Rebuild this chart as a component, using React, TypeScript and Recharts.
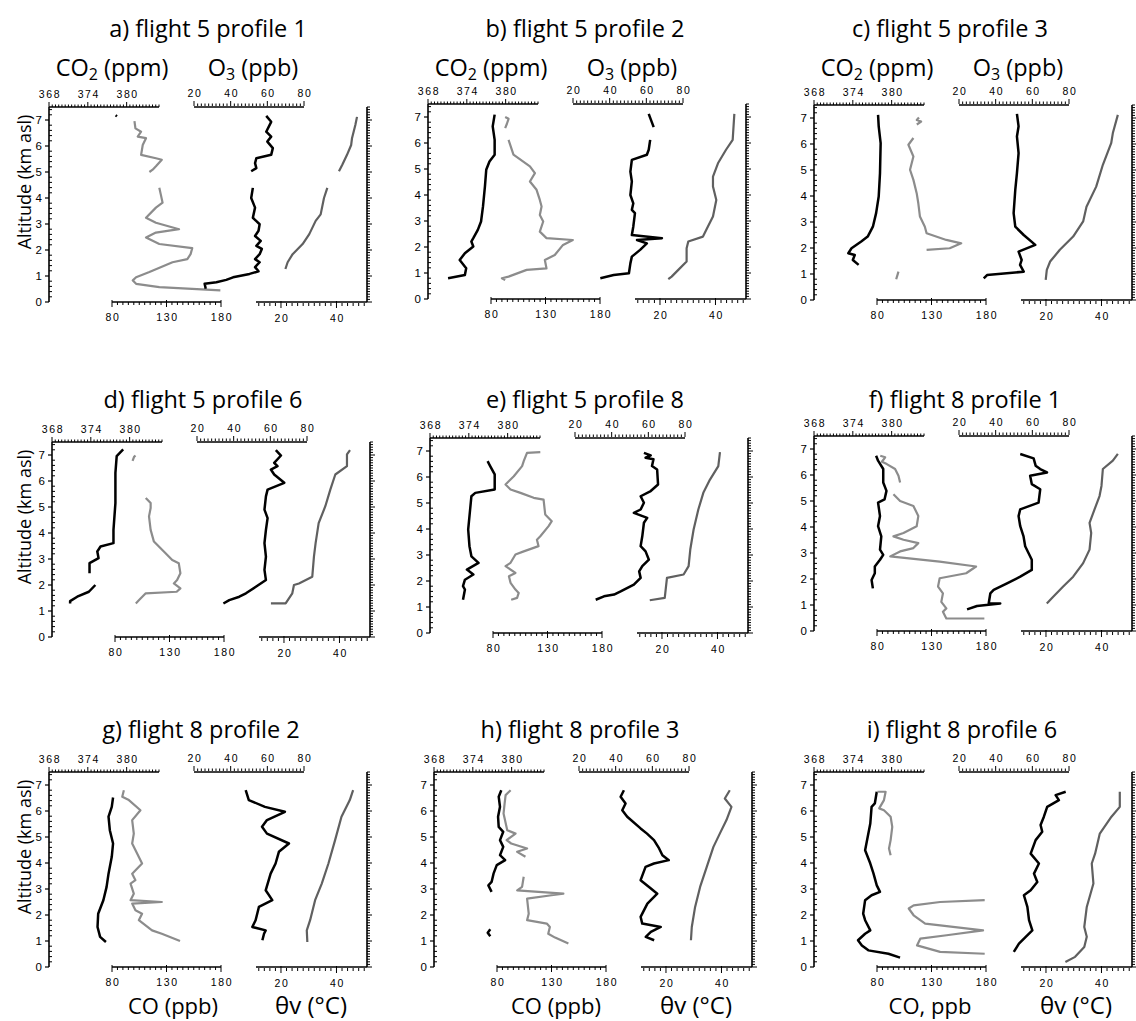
import { ScatterChart, Scatter, XAxis, YAxis, ReferenceLine } from "recharts";

type P = [number, number] | null;

// tick labels
const co2Labels = [368, 374, 380];
const o3Labels = [20, 40, 60, 80];
const coLabels = [80, 130, 180];
const thLabels = [20, 40];
const altLabels = [0, 1, 2, 3, 4, 5, 6, 7];

// a) flight 5 profile 1  — [value, altitude km], null = gap
const aCO2: P[] = [[378.3, 7.18], [378.5, 7.14]];
const aCO: P[] = [[100.6, 6.96], [101.5, 6.68], [106.7, 6.55], [103.6, 6.36], [111.2, 6.3], [108.2, 6.04], [106.7, 5.66], [120.3, 5.53], [125.7, 5.47], [120.3, 5.22], [117.3, 5.09], [114.3, 5.0], null, [123.4, 4.39], [124.8, 4.13], [126.4, 3.82], [120.3, 3.63], [111.2, 3.24], [120.3, 3.05], [141.5, 2.8], [120.3, 2.67], [111.2, 2.48], [123.4, 2.23], [153.6, 2.07], [152.1, 1.84], [149.1, 1.65], [135.5, 1.53], [114.3, 1.15], [102.1, 0.95], [99.1, 0.83], [102.1, 0.7], [123.4, 0.57], [179.4, 0.45]];
const aO3: P[] = [[59.4, 7.16], [62.1, 6.93], [59.4, 6.55], [62.1, 6.36], [60.0, 6.17], [63.0, 5.92], [62.1, 5.66], [54.0, 5.53], [53.3, 5.34], [54.0, 5.15], [51.2, 5.03], null, [52.1, 4.39], [51.2, 4.0], [53.3, 3.63], [52.1, 3.24], [55.8, 2.99], [55.2, 2.74], [53.3, 2.54], [56.4, 2.35], [54.0, 2.16], [57.0, 2.04], [55.8, 1.84], [53.3, 1.65], [55.8, 1.53], [53.3, 1.34], [55.2, 1.18], [50.3, 1.08], [41.3, 0.95], [37.6, 0.85], [32.2, 0.76], [25.8, 0.7], [26.4, 0.51]];
const aTH: P[] = [[47.4, 7.12], [46.8, 6.81], [45.6, 6.3], [45.3, 6.04], [43.8, 5.66], [42.1, 5.28], [40.9, 5.03], null, [36.7, 4.39], [35.5, 4.0], [34.3, 3.37], [32.5, 3.12], [30.2, 2.61], [27.8, 2.23], [24.2, 1.84], [22.4, 1.53], [21.6, 1.27]];

// b) flight 5 profile 2
const bCO2: P[] = [[378.3, 7.09], [378.0, 6.64], [378.3, 6.12], [378.3, 5.55], [377.5, 5.29], [377.0, 4.97], [376.8, 4.33], [376.5, 3.56], [376.2, 2.98], [375.7, 2.66], [375.0, 2.34], [374.7, 2.21], [375.0, 2.02], [373.7, 1.76], [372.9, 1.5], [373.9, 1.18], [373.7, 0.92], [371.1, 0.8]];
const bCO: P[] = [[93.0, 7.0], [96.1, 6.93], [94.6, 6.74], [93.0, 6.57], null, [96.1, 6.12], [100.6, 5.55], [115.7, 5.1], [120.3, 4.84], [115.7, 4.52], [121.8, 4.2], [124.8, 3.81], [126.4, 3.56], [124.8, 3.23], [127.9, 2.98], [124.8, 2.59], [130.9, 2.34], [155.1, 2.27], [146.1, 2.08], [138.5, 1.69], [129.4, 1.5], [130.9, 1.18], [112.7, 1.12], [96.1, 0.86], [90.0, 0.8], [93.0, 0.73]];
const bO3: P[] = [[61.3, 7.12], [64.0, 6.61], null, [62.1, 6.12], [61.3, 5.74], [60.3, 5.55], [52.1, 5.35], [51.3, 4.9], [52.1, 4.52], [51.3, 4.0], [52.9, 3.68], [52.1, 3.43], [53.8, 3.3], [52.9, 2.79], [52.1, 2.46], [68.5, 2.34], [54.9, 2.27], [60.3, 2.14], [56.6, 1.89], [52.1, 1.63], [51.3, 1.37], [50.5, 0.99], [42.2, 0.92], [34.9, 0.8]];
const bTH: P[] = [[46.8, 7.12], [46.2, 6.12], [43.8, 5.74], [40.9, 5.22], [39.1, 4.71], [39.1, 4.33], [40.3, 3.81], [39.1, 3.17], [36.7, 2.66], [35.5, 2.4], [30.2, 2.21], [29.6, 1.95], [29.6, 1.44], [26.6, 1.12], [24.2, 0.86], [23.0, 0.76]];

// c) flight 5 profile 3
const cCO2: P[] = [[377.9, 7.12], [378.0, 6.68], [378.3, 6.03], [378.2, 4.88], [378.0, 3.98], [377.6, 3.34], [377.1, 2.82], [376.3, 2.44], [375.3, 2.25], [373.8, 1.99], [373.3, 1.8], [374.3, 1.73], [374.0, 1.54], [374.9, 1.35]];
const cCO: P[] = [[118.5, 7.02], [116.5, 6.92], [120.5, 6.86], [116.5, 6.75], null, [113.4, 6.23], [108.8, 5.97], [113.4, 5.52], [110.3, 5.01], [113.4, 4.62], [116.4, 4.11], [117.9, 3.72], [119.4, 3.21], [123.9, 2.82], [125.5, 2.57], [143.6, 2.31], [157.3, 2.18], [146.7, 1.99], [125.5, 1.93], null, [99.7, 1.09], [97.6, 0.8]];
const cO3: P[] = [[51.6, 7.16], [52.5, 6.68], [51.6, 6.29], [52.5, 5.65], [51.6, 4.88], [50.7, 4.24], [49.8, 3.34], [50.7, 2.82], [55.3, 2.5], [61.6, 2.12], [52.5, 1.86], [54.2, 1.54], [53.3, 1.35], [55.3, 1.09], [35.3, 0.96], [33.5, 0.83]];
const cTH: P[] = [[45.9, 7.12], [44.1, 6.42], [43.5, 6.03], [40.5, 5.2], [38.1, 4.36], [34.6, 3.59], [33.4, 3.02], [29.8, 2.44], [25.0, 1.93], [21.5, 1.48], [20.3, 1.16], [19.9, 0.77]];

// d) flight 5 profile 6
const dCO2: P[] = [[379.0, 7.22], [378.0, 6.96], [377.8, 6.31], [377.8, 5.15], [377.5, 4.12], [377.5, 3.61], [375.5, 3.48], [375.0, 3.29], [375.2, 3.03], [373.8, 2.84], [373.8, 2.45], null, [374.7, 2.0], [373.7, 1.74], [371.9, 1.55], [370.8, 1.38], [370.8, 1.29]];
const dCO: P[] = [[98.8, 6.98], [97.5, 6.93], [96.1, 6.77], null, [108.2, 5.35], [112.7, 5.15], [112.7, 4.96], [111.2, 4.64], [112.7, 4.12], [115.7, 3.67], [126.4, 3.22], [132.5, 2.96], [138.5, 2.84], [140.0, 2.45], [137.0, 2.19], [134.0, 2.06], [140.0, 1.87], [136.6, 1.74], [108.2, 1.68], [102.1, 1.42], [99.1, 1.29]];
const dO3: P[] = [[63.0, 7.19], [65.8, 6.98], [62.1, 6.7], [63.9, 6.57], [60.3, 6.44], [62.1, 6.25], [67.6, 5.93], [58.5, 5.67], [57.6, 5.41], [56.8, 4.9], [58.5, 4.57], [57.6, 4.12], [56.8, 3.61], [57.6, 3.09], [56.8, 2.58], [57.6, 2.19], [52.1, 1.93], [46.7, 1.68], [43.1, 1.55], [37.6, 1.42], [34.4, 1.29]];
const dTH: P[] = [[43.8, 7.19], [42.7, 7.02], [42.7, 6.57], [38.5, 6.25], [36.7, 5.67], [34.9, 5.03], [32.5, 4.38], [31.4, 3.61], [30.8, 3.09], [30.2, 2.32], [25.4, 2.06], [23.6, 2.0], [23.0, 1.68], [20.6, 1.29], [15.3, 1.29]];

// e) flight 5 profile 8
const eCO2: P[] = [[376.9, 6.61], [377.3, 6.42], [378.0, 6.1], [378.0, 5.52], [375.0, 5.39], [374.4, 5.26], [374.2, 4.75], [373.9, 3.98], [374.1, 3.34], [374.4, 2.95], [375.5, 2.7], [373.7, 2.44], [374.7, 2.25], [373.4, 2.05], [373.1, 1.8], [373.4, 1.67], [373.1, 1.28]];
const eCO: P[] = [[123.4, 6.96], [111.2, 6.93], [108.2, 6.61], [106.7, 6.42], [99.1, 6.03], [91.5, 5.71], [96.1, 5.52], [105.2, 5.39], [117.3, 5.2], [126.4, 5.13], [127.9, 4.56], [133.9, 4.3], [131.0, 4.11], [123.4, 3.72], [120.3, 3.59], [121.8, 3.34], [108.2, 3.14], [100.6, 3.02], [96.1, 2.7], [91.5, 2.57], [100.6, 2.31], [94.6, 2.18], [96.1, 1.93], [100.6, 1.67], [103.6, 1.54], [102.1, 1.35], [96.7, 1.28]];
const eO3: P[] = [[57.6, 6.93], [61.3, 6.83], [58.5, 6.74], [62.8, 6.68], [62.0, 6.42], [64.8, 6.29], [65.3, 5.71], [61.3, 5.46], [55.8, 5.26], [57.6, 5.01], [55.8, 4.75], [52.1, 4.62], [59.4, 4.43], [57.6, 4.24], [56.7, 3.72], [55.8, 3.34], [58.5, 3.14], [60.3, 2.82], [56.7, 2.57], [55.0, 2.37], [55.8, 2.12], [52.1, 1.86], [44.9, 1.6], [41.3, 1.48], [35.8, 1.41], [31.3, 1.28]];
const eTH: P[] = [[40.9, 6.96], [40.3, 6.42], [37.3, 5.9], [34.9, 5.39], [33.1, 4.75], [31.4, 3.98], [30.2, 3.21], [29.6, 2.57], [27.8, 2.25], [21.8, 2.12], [21.2, 1.54], [21.0, 1.35], [15.6, 1.26]];

// f) flight 8 profile 1
const fCO2: P[] = [[377.6, 6.74], [377.9, 6.55], [378.7, 6.23], [378.7, 5.71], [379.2, 5.39], [378.9, 5.06], [377.9, 4.94], [378.2, 4.42], [377.9, 4.03], [378.4, 3.64], [378.2, 3.13], [378.7, 2.93], [378.2, 2.74], [377.4, 2.48], [377.4, 2.22], [376.9, 1.96], [377.1, 1.64]];
const fCO: P[] = [[83.0, 6.74], [87.5, 6.68], [84.5, 6.51], [89.0, 6.42], [96.6, 6.23], [99.7, 5.97], [101.2, 5.71], null, [95.1, 5.26], [101.2, 5.0], [113.4, 4.81], [117.9, 4.42], [116.4, 4.03], [104.3, 3.77], [95.1, 3.64], [104.3, 3.51], [117.9, 3.38], [113.4, 3.19], [101.2, 3.06], [92.1, 2.87], [137.5, 2.67], [170.9, 2.48], [161.8, 2.22], [137.5, 2.03], [136.0, 1.71], [140.5, 1.45], [139.0, 1.12], [143.6, 0.87], [140.5, 0.74], [143.6, 0.48], [178.5, 0.48]];
const fO3: P[] = [[53.4, 6.81], [60.7, 6.64], [61.8, 6.36], [64.3, 6.23], [68.0, 6.1], [58.8, 5.97], [59.7, 5.65], [64.3, 5.45], [63.4, 4.94], [53.4, 4.68], [52.5, 4.42], [53.4, 4.03], [55.2, 3.64], [56.1, 3.26], [57.9, 3.0], [59.7, 2.74], [59.7, 2.35], [53.4, 2.09], [46.2, 1.83], [38.9, 1.58], [37.1, 1.45], [36.2, 1.06], [42.5, 1.06], [29.8, 0.96], [24.4, 0.83]];
const fTH: P[] = [[45.9, 6.81], [44.1, 6.55], [40.5, 6.23], [40.0, 5.58], [39.3, 5.19], [37.5, 4.68], [35.7, 4.16], [36.3, 3.77], [35.7, 3.13], [33.4, 2.61], [29.8, 2.09], [26.2, 1.71], [22.6, 1.32], [20.3, 1.06]];

// g) flight 8 profile 2
const gCO2: P[] = [[377.9, 6.52], [377.7, 6.16], [377.2, 5.78], [377.4, 5.26], [377.9, 4.75], [377.7, 4.24], [377.2, 3.59], [376.9, 3.08], [376.4, 2.57], [375.6, 2.05], [375.5, 1.54], [375.9, 1.16], [376.8, 0.96]];
const gCO: P[] = [[90.9, 6.8], [89.4, 6.55], [95.5, 6.42], [106.1, 6.03], [98.5, 5.65], [100.0, 5.13], [98.5, 4.75], [107.6, 3.98], [98.5, 3.59], [101.5, 3.34], [97.0, 3.21], [100.0, 2.82], [97.0, 2.57], [125.7, 2.5], [98.5, 2.44], [101.5, 2.18], [107.6, 2.05], [104.6, 1.8], [116.7, 1.41], [125.7, 1.28], [142.4, 1.0]];
const gO3: P[] = [[48.2, 6.8], [49.9, 6.42], [58.7, 6.16], [69.6, 5.97], [59.8, 5.65], [57.1, 5.39], [59.8, 5.13], [71.8, 4.75], [66.3, 4.43], [64.5, 3.98], [61.8, 3.59], [59.1, 2.95], [62.7, 2.57], [55.4, 2.31], [53.6, 1.8], [51.8, 1.54], [59.1, 1.41], [58.2, 1.28], [57.3, 1.03]];
const gTH: P[] = [[46.0, 6.8], [44.8, 6.42], [41.8, 5.78], [39.5, 4.88], [37.1, 3.98], [34.7, 3.21], [32.3, 2.57], [30.5, 1.8], [29.3, 1.41], [29.5, 0.96]];

// h) flight 8 profile 3
const hCO2: P[] = [[378.4, 6.8], [378.0, 6.55], [378.2, 6.16], [377.9, 5.78], [378.0, 5.39], [378.7, 5.2], [378.2, 4.88], [378.7, 4.62], [378.2, 4.3], [379.0, 4.11], [377.7, 3.92], [377.2, 3.59], [376.9, 3.27], [376.4, 3.14], [376.9, 2.89], null, [376.7, 1.45], [376.3, 1.32], [376.7, 1.18]];
const hCO: P[] = [[92.5, 6.8], [87.9, 6.61], [87.0, 6.29], [86.0, 5.9], [89.4, 5.26], [97.0, 5.13], [88.8, 4.88], [93.0, 4.75], [107.6, 4.56], [98.5, 4.43], [106.1, 4.24], null, [104.5, 3.47], [103.0, 3.08], [98.5, 2.95], [140.9, 2.82], [130.0, 2.76], [107.6, 2.63], [109.1, 2.05], [107.6, 1.8], [125.7, 1.67], [128.5, 1.54], [127.0, 1.28], [133.3, 1.13], [145.5, 0.9]];
const hO3: P[] = [[44.5, 6.8], [42.7, 6.55], [45.4, 6.29], [43.6, 6.03], [46.3, 5.78], [53.6, 5.33], [57.1, 5.13], [60.9, 4.88], [63.7, 4.56], [65.5, 4.3], [69.0, 4.11], [60.9, 3.98], [56.3, 3.85], [53.6, 3.34], [58.2, 3.08], [62.7, 2.82], [57.3, 2.44], [53.6, 1.93], [54.5, 1.67], [64.6, 1.54], [59.2, 1.35], [56.4, 1.16], [61.0, 1.03]];
const hTH: P[] = [[43.0, 6.8], [41.2, 6.48], [43.6, 6.16], [41.8, 5.65], [39.4, 5.13], [37.1, 4.62], [34.7, 3.85], [32.3, 3.08], [30.5, 2.31], [29.3, 1.54], [29.0, 1.03]];

// i) flight 8 profile 6
const iCO2: P[] = [[377.7, 6.74], [377.4, 6.29], [376.9, 6.16], [376.7, 5.52], [375.9, 4.49], [376.7, 3.98], [377.2, 3.59], [377.7, 3.14], [378.2, 2.89], [376.9, 2.76], [375.9, 2.57], [375.6, 2.05], [375.9, 1.8], [376.7, 1.41], [375.9, 1.28], [374.8, 1.03], [375.4, 0.83], [376.4, 0.64], [379.5, 0.51], [381.3, 0.36]];
const iCO: P[] = [[80.3, 6.74], [87.9, 6.74], [86.4, 6.42], [82.0, 6.1], [86.4, 6.03], [92.5, 5.78], [94.0, 5.39], [92.5, 4.88], [91.0, 4.56], [92.5, 4.3], null, [178.8, 2.57], [137.9, 2.5], [113.6, 2.37], [109.1, 2.25], [113.6, 1.99], [119.7, 1.8], [124.2, 1.67], [177.3, 1.41], [143.9, 1.22], [119.7, 1.09], [116.7, 0.83], [137.9, 0.58], [178.8, 0.51]];
const iO3: P[] = [[78.2, 6.74], [72.7, 6.61], [74.5, 6.42], [68.1, 6.16], [66.3, 5.78], [64.5, 5.46], [65.4, 5.2], [61.8, 4.88], [59.1, 4.36], [63.6, 3.98], [60.9, 3.59], [62.7, 3.27], [59.1, 2.95], [55.4, 2.76], [57.3, 2.31], [58.2, 1.8], [60.0, 1.41], [56.4, 1.16], [52.7, 0.9], [49.9, 0.58]];
const iTH: P[] = [[46.6, 6.74], [46.6, 6.16], [43.6, 5.78], [39.4, 5.13], [37.7, 4.36], [36.5, 3.98], [37.1, 3.21], [34.7, 2.31], [33.8, 1.54], [34.7, 1.16], [33.8, 0.77], [30.5, 0.39], [27.0, 0.19]];

const panels = [
  { title: "a) flight 5 profile 1", co2: aCO2, co: aCO, o3: aO3, th: aTH },
  { title: "b) flight 5 profile 2", co2: bCO2, co: bCO, o3: bO3, th: bTH },
  { title: "c) flight 5 profile 3", co2: cCO2, co: cCO, o3: cO3, th: cTH },
  { title: "d) flight 5 profile 6", co2: dCO2, co: dCO, o3: dO3, th: dTH },
  { title: "e)  flight 5 profile 8", co2: eCO2, co: eCO, o3: eO3, th: eTH },
  { title: "f) flight 8 profile 1", co2: fCO2, co: fCO, o3: fO3, th: fTH },
  { title: "g) flight 8 profile 2", co2: gCO2, co: gCO, o3: gO3, th: gTH },
  { title: "h) flight 8 profile 3", co2: hCO2, co: hCO, o3: hO3, th: hTH },
  { title: "i) flight 8 profile 6", co2: iCO2, co: iCO, o3: iO3, th: iTH },
];

// layout: plot-area left / top of each panel, title centre & baseline, bottom CO label centre
const layout = [
  { x: 49, y: 107, tx: 208, ty: 37, cx: 124 },
  { x: 428, y: 104, tx: 585, ty: 37, cx: 124 },
  { x: 814, y: 105, tx: 950, ty: 37, cx: 124 },
  { x: 52, y: 442, tx: 203, ty: 408, cx: 124 },
  { x: 430, y: 438, tx: 585, ty: 408, cx: 124 },
  { x: 814, y: 436, tx: 965, ty: 408, cx: 124 },
  { x: 49, y: 772, tx: 201, ty: 738, cx: 124 },
  { x: 434, y: 772, tx: 580, ty: 738, cx: 122 },
  { x: 814, y: 772, tx: 962, ty: 738, cx: 116 },
];

const PW = 318;
const PH = 195;
const M = { top: 24, right: 14, bottom: 26, left: 44 };
const TICK_FONT = "'Liberation Sans', Arial, sans-serif";
const TEXT_FONT = "'Open Sans', 'Noto Sans', sans-serif";
const CO_GRAY = "#8c8c8c";
const TH_GRAY = "#606060";

const range = (a: number, b: number, s: number) => {
  const out: number[] = [];
  for (let v = a; v <= b + 1e-9; v += s) out.push(Math.round(v * 100) / 100);
  return out;
};

const co2Ticks = range(368, 385, 0.5);
const o3Ticks = range(20, 80, 2);
const coTicks = range(80, 180, 5);
const thTicks = range(12, 50, 2);
const altTicksL = range(0, 7.4, 0.2);
const altTicksR = range(0, 7.5, 0.1);

function segments(pts: P[]) {
  const out: { v: number; h: number }[][] = [];
  let cur: { v: number; h: number }[] = [];
  for (const p of pts) {
    if (p === null) {
      if (cur.length) out.push(cur);
      cur = [];
    } else cur.push({ v: p[0], h: p[1] });
  }
  if (cur.length) out.push(cur);
  return out;
}

const noDot = () => <g />;

const topTick = (labels: number[]) => (props: any) => {
  const { x, y, payload } = props;
  const major = labels.includes(payload.value);
  return (
    <g>
      <line x1={x} x2={x} y1={y} y2={y - (major ? 5 : 2.5)} stroke="#000" strokeWidth={1} />
      {major && (
        <text x={x + 1} y={y - 9} textAnchor="middle" fontSize={10.5} fontFamily={TICK_FONT} letterSpacing={1.6} fill="#000">
          {payload.value}
        </text>
      )}
    </g>
  );
};

const bottomTick = (labels: number[]) => (props: any) => {
  const { x, y, payload } = props;
  const major = labels.includes(payload.value);
  return (
    <g>
      <line x1={x} x2={x} y1={major ? y - 2 : y} y2={y + (major ? 5 : 3)} stroke="#000" strokeWidth={1} />
      {major && (
        <text x={x + 1} y={y + 19} textAnchor="middle" fontSize={10.5} fontFamily={TICK_FONT} letterSpacing={1.6} fill="#000">
          {payload.value}
        </text>
      )}
    </g>
  );
};

const leftTick = (props: any) => {
  const { x, y, payload } = props;
  const major = Number.isInteger(payload.value);
  return (
    <g>
      {major ? (
        <line x1={x - 4} x2={x} y1={y} y2={y} stroke="#000" strokeWidth={1.2} />
      ) : (
        <line x1={x} x2={x + 3} y1={y} y2={y} stroke="#000" strokeWidth={1} />
      )}
      {major && altLabels.includes(payload.value) && (
        <text x={x - 7} y={y + 4} textAnchor="end" fontSize={11.5} fontFamily={TICK_FONT} fill="#000">
          {payload.value}
        </text>
      )}
    </g>
  );
};

const rightTick = (props: any) => {
  const { x, y, payload } = props;
  const major = Math.abs(payload.value - Math.round(payload.value)) < 1e-6;
  return <line x1={x} x2={x + (major ? 5 : 3)} y1={y} y2={y} stroke="#000" strokeWidth={1} />;
};

function Panel({ p, l }: { p: (typeof panels)[number]; l: (typeof layout)[number] }) {
  const series = [
    { id: "co2", data: p.co2, color: "#000", w: 2.5 },
    { id: "co", data: p.co, color: CO_GRAY, w: 2.2 },
    { id: "o3", data: p.o3, color: "#000", w: 2.5 },
    { id: "th", data: p.th, color: TH_GRAY, w: 2.2 },
  ];
  const common = {
    type: "number" as const,
    dataKey: "v",
    allowDataOverflow: true,
    height: 1,
    axisLine: false,
    tickLine: false,
    tickSize: 0,
    tickMargin: 0,
    interval: 0 as const,
  };
  const yCommon = {
    type: "number" as const,
    dataKey: "h",
    domain: [0, 7.5] as [number, number],
    allowDataOverflow: true,
    width: 1,
    interval: 0 as const,
    tickSize: 0,
    tickMargin: 0,
    tickLine: false,
    axisLine: { stroke: "#000", strokeWidth: 1.6 },
  };
  return (
    <div style={{ position: "absolute", left: l.x - M.left - 1, top: l.y - M.top - 2 }}>
      <ScatterChart width={M.left + 1 + PW + 1 + M.right} height={M.top + 2 + PH + 2 + M.bottom} margin={M}>
        <XAxis {...common} xAxisId="co2" orientation="top" domain={[368, 385]} padding={{ left: 0, right: PW - 110 }} ticks={co2Ticks} tick={topTick(co2Labels)} />
        <XAxis {...common} xAxisId="o3" orientation="top" domain={[20, 80]} padding={{ left: 145, right: PW - 255 }} ticks={o3Ticks} tick={topTick(o3Labels)} />
        <XAxis {...common} xAxisId="co" orientation="bottom" domain={[80, 180]} padding={{ left: 63, right: PW - 172 }} ticks={coTicks} tick={bottomTick(coLabels)} />
        <XAxis {...common} xAxisId="th" orientation="bottom" domain={[11, 51]} padding={{ left: 207, right: 0 }} ticks={thTicks} tick={bottomTick(thLabels)} />
        <YAxis {...yCommon} yAxisId="alt" ticks={altTicksL} tick={leftTick} />
        <YAxis {...yCommon} yAxisId="alt2" orientation="right" ticks={altTicksR} tick={rightTick} />
        <ReferenceLine xAxisId="co2" yAxisId="alt" segment={[{ x: 368, y: 7.5 }, { x: 385, y: 7.5 }]} stroke="#000" strokeWidth={1.5} ifOverflow="visible" />
        <ReferenceLine xAxisId="o3" yAxisId="alt" segment={[{ x: 20, y: 7.5 }, { x: 80, y: 7.5 }]} stroke="#000" strokeWidth={1.5} ifOverflow="visible" />
        <ReferenceLine xAxisId="co" yAxisId="alt" segment={[{ x: 80, y: 0 }, { x: 180, y: 0 }]} stroke="#000" strokeWidth={1.5} ifOverflow="visible" />
        <ReferenceLine xAxisId="th" yAxisId="alt" segment={[{ x: 11, y: 0 }, { x: 51, y: 0 }]} stroke="#000" strokeWidth={1.5} ifOverflow="visible" />
        {series.flatMap((s) =>
          segments(s.data).map((seg, i) => (
            <Scatter
              key={s.id + i}
              xAxisId={s.id}
              yAxisId="alt"
              data={seg}
              line={{ stroke: s.color, strokeWidth: s.w, strokeLinejoin: "round" }}
              lineJointType="linear"
              shape={noDot}
              isAnimationActive={false}
            />
          ))
        )}
      </ScatterChart>
    </div>
  );
}

function Sub({ base, sub, rest }: { base: string; sub: string; rest: string }) {
  return (
    <>
      {base}
      <tspan fontSize={16} dy={4}>{sub}</tspan>
      <tspan dy={-4}>{rest}</tspan>
    </>
  );
}

export default function App() {
  return (
    <div style={{ position: "absolute", left: 0, top: 0, width: 1136, height: 1021, background: "#fff", overflow: "hidden" }}>
      {panels.map((p, i) => (
        <Panel key={i} p={p} l={layout[i]} />
      ))}
      <svg width={1136} height={1021} style={{ position: "absolute", left: 0, top: 0, pointerEvents: "none" }} fontFamily={TEXT_FONT}>
        {panels.map((p, i) => (
          <text key={i} x={layout[i].tx} y={layout[i].ty} textAnchor="middle" fontSize={23.5}>
            {p.title}
          </text>
        ))}
        {[0, 1, 2].map((i) => (
          <g key={i}>
            <text x={layout[i].x + 63} y={76} textAnchor="middle" fontSize={23.5}>
              <Sub base="CO" sub="2" rest=" (ppm)" />
            </text>
            <text x={layout[i].x + 204} y={76} textAnchor="middle" fontSize={23.5}>
              <Sub base="O" sub="3" rest=" (ppb)" />
            </text>
          </g>
        ))}
        {[0, 3, 6].map((i) => (
          <text key={i} transform={`translate(31, ${layout[i].y + 75}) rotate(-90)`} textAnchor="middle" fontSize={18}>
            Altitude (km asl)
          </text>
        ))}
        {[6, 7, 8].map((i) => (
          <g key={i}>
            <text x={layout[i].x + layout[i].cx} y={1014} textAnchor="middle" fontSize={22}>
              {i === 8 ? "CO, ppb" : "CO (ppb)"}
            </text>
            <text x={layout[i].x + 262} y={1014} textAnchor="middle" fontSize={24}>
              θv (°C)
            </text>
          </g>
        ))}
      </svg>
    </div>
  );
}
